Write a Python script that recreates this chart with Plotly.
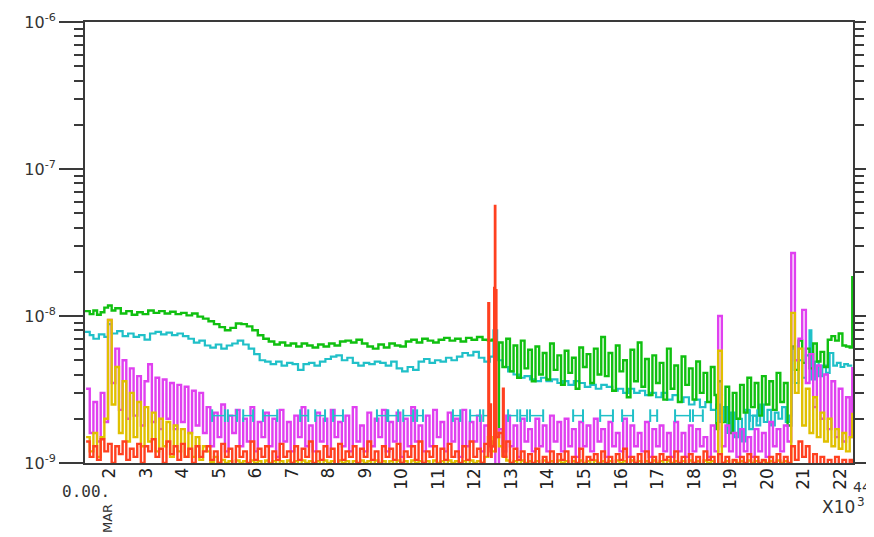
import plotly.graph_objects as go

# ---------------- data (days of March, values in units of 1e-9) ----------------
day_ticks = list(range(2, 23))
day_labels = [str(d) for d in day_ticks]
y_tick_vals = [1e-9, 1e-8, 1e-7, 1e-6]
y_tick_text = ["10<sup>-9</sup>", "10<sup>-8</sup>", "10<sup>-7</sup>", "10<sup>-6</sup>"]

green_t = [1.37, 1.5, 1.6, 1.7, 1.8, 1.9, 2.0, 2.1, 2.2, 2.35,
           2.5, 2.65, 2.8, 2.95, 3.1, 3.25, 3.4, 3.55, 3.7, 3.85,
           4.0, 4.15, 4.3, 4.45, 4.6, 4.75, 4.9, 5.05, 5.2, 5.35,
           5.5, 5.65, 5.8, 5.95, 6.1, 6.25, 6.4, 6.55, 6.7, 6.85,
           7.0, 7.15, 7.3, 7.45, 7.6, 7.75, 7.9, 8.05, 8.2, 8.35,
           8.5, 8.65, 8.8, 8.95, 9.1, 9.25, 9.4, 9.55, 9.7, 9.85,
           10.0, 10.15, 10.3, 10.45, 10.6, 10.75, 10.9, 11.05, 11.2, 11.35,
           11.5, 11.65, 11.8, 11.95, 12.1, 12.25, 12.4,
           12.5, 12.6, 12.7, 12.8, 12.9, 13.0, 13.1, 13.2, 13.3, 13.4,
           13.5, 13.6, 13.7, 13.8, 13.9, 14.0, 14.1, 14.2, 14.3, 14.4,
           14.5, 14.6, 14.7, 14.8, 14.9, 15.0, 15.1, 15.2, 15.3, 15.4,
           15.5, 15.6, 15.7, 15.8, 15.9, 16.0, 16.1, 16.2, 16.3, 16.4,
           16.5, 16.6, 16.7, 16.8, 16.9, 17.0, 17.1, 17.2, 17.3, 17.4,
           17.5, 17.6, 17.7, 17.8, 17.9, 18.0, 18.1, 18.2, 18.3, 18.4,
           18.5, 18.6, 18.65, 18.7, 18.8, 18.9, 19.0, 19.1, 19.2, 19.3,
           19.4, 19.5, 19.6, 19.7, 19.8, 19.9, 20.0, 20.1, 20.2, 20.3,
           20.4, 20.5, 20.6, 20.7, 20.8, 20.9, 21.0, 21.1, 21.2, 21.3,
           21.4, 21.5, 21.6, 21.7, 21.8, 21.9, 22.0, 22.1, 22.2, 22.3,
           22.36, 22.37]
green_v = [10.8, 10.3, 10.9, 10.2, 10.6, 11.4, 11.8, 10.9, 11.3, 10.4,
           10.8, 10.2, 10.6, 10.3, 10.9, 10.5, 10.8, 10.4, 10.7, 10.3,
           10.5, 10.1, 10.4, 9.9, 9.6, 9.2, 8.8, 8.4, 8.0, 8.3,
           8.9, 8.8, 8.5, 8.0, 7.4, 7.0, 6.7, 6.4, 6.6, 6.3,
           6.5, 6.2, 6.5, 6.3, 6.1, 6.4, 6.2, 6.5, 6.3, 6.7,
           6.8, 6.6, 6.9, 6.5, 6.2, 6.0, 6.4, 6.1, 6.5, 6.3,
           6.2, 6.7, 6.9, 6.6, 7.0, 6.8, 6.6, 6.9, 7.1, 6.8,
           7.0, 6.7, 7.1, 6.9, 7.2, 6.9, 6.8,
           6.9, 1.5, 6.6, 4.5, 7.0, 4.2, 6.3, 3.8, 6.8, 4.4,
           5.9, 3.6, 6.2, 4.0, 5.6, 3.7, 6.5, 4.3, 5.4, 3.4,
           5.8, 4.1, 5.2, 3.2, 6.1, 4.5, 5.5, 3.5, 6.0, 4.0,
           7.2, 3.9, 5.6, 3.1, 6.3, 4.2, 5.0, 2.8, 5.9, 3.6,
           6.6, 3.3, 5.1, 2.9, 5.4, 3.5, 4.8, 2.7, 6.0, 3.2,
           4.6, 2.6, 5.3, 3.4, 4.4, 2.7, 4.9, 3.0, 4.1, 2.6,
           4.5, 2.9, 1.7, 3.6, 1.9, 3.3, 1.6, 3.0, 2.0, 3.4,
           2.2, 3.8, 2.4, 3.5, 2.1, 3.9, 2.5, 3.6, 2.3, 4.1,
           2.6, 3.5, 1.8, 6.2, 4.3, 6.8, 4.8, 6.0, 4.4, 6.5,
           4.9, 5.7, 4.5, 6.9, 7.3, 6.8, 7.6, 6.3, 6.2, 6.1,
           6.1, 18.7]

cyan_t = [1.37, 1.5, 1.6, 1.75, 1.9, 2.0, 2.1, 2.25, 2.4, 2.55,
          2.7, 2.85, 3.0, 3.15, 3.3, 3.45, 3.6, 3.75, 3.9, 4.05,
          4.2, 4.35, 4.5, 4.65, 4.8, 4.95, 5.1, 5.25, 5.4, 5.55,
          5.7, 5.85, 6.0, 6.15, 6.3, 6.45, 6.6, 6.75, 6.9, 7.05,
          7.2, 7.35, 7.5, 7.65, 7.8, 7.95, 8.1, 8.25, 8.4, 8.55,
          8.7, 8.85, 9.0, 9.15, 9.3, 9.45, 9.6, 9.75, 9.9, 10.05,
          10.2, 10.35, 10.5, 10.65, 10.8, 10.95, 11.1, 11.25, 11.4, 11.55,
          11.7, 11.85, 12.0, 12.15, 12.3, 12.45, 12.55, 12.65, 12.8, 12.95,
          13.1, 13.25, 13.4, 13.55, 13.7, 13.85, 14.0, 14.15, 14.3, 14.45,
          14.6, 14.75, 14.9, 15.05, 15.2, 15.35, 15.5, 15.65, 15.8, 15.95,
          16.1, 16.25, 16.4, 16.55, 16.7, 16.85, 17.0, 17.15, 17.3, 17.45,
          17.6, 17.75, 17.9, 18.05, 18.2, 18.35, 18.5, 18.65, 18.75, 18.85,
          18.95, 19.05, 19.15, 19.25, 19.35, 19.45, 19.55, 19.65, 19.75, 19.85,
          19.95, 20.05, 20.15, 20.25, 20.35, 20.45, 20.55, 20.65, 20.7, 20.8,
          20.9, 21.0, 21.1, 21.2, 21.25, 21.35, 21.45, 21.55, 21.65, 21.75,
          21.85, 21.95, 22.05, 22.15, 22.25, 22.37]
cyan_v = [7.8, 7.4, 7.0, 7.5, 7.2, 8.8, 7.6, 7.9, 7.3, 7.6,
          7.2, 7.4, 6.9, 7.6, 7.8, 7.5, 7.7, 7.4, 7.6, 7.3,
          7.0, 6.6, 6.8, 6.3, 6.1, 6.4, 6.0, 6.3, 6.5, 6.8,
          6.4, 6.0, 5.5, 5.0, 4.9, 4.7, 4.9, 4.6, 4.8, 4.7,
          4.3, 4.7, 4.8, 4.6, 4.9, 5.1, 5.3, 5.4, 5.0, 5.2,
          4.8, 4.6, 4.8, 4.7, 4.9, 4.8, 4.6, 4.9, 4.4, 4.2,
          4.5, 4.3, 4.9, 5.1, 4.8, 5.0, 4.9, 5.2, 5.0, 5.3,
          5.6, 5.4, 5.7, 5.2, 4.9, 5.3, 8.0, 5.0, 4.5, 4.2,
          4.0, 3.8, 3.9, 3.7, 3.6, 3.8, 3.6, 3.7, 3.5, 3.6,
          3.4, 3.6, 3.5, 3.3, 3.4, 3.2, 3.4, 3.3, 3.1, 3.2,
          3.0, 3.2, 3.0, 3.1, 2.9, 3.0, 2.8, 3.0, 2.7, 2.9,
          2.6, 2.8, 2.5, 2.7, 2.4, 2.6, 2.3, 2.5, 1.9, 2.4,
          1.6, 2.2, 1.5, 2.0, 1.4, 2.3, 1.7, 2.1, 1.8, 2.5,
          1.9, 2.3, 1.8, 2.2, 2.0, 2.4, 1.9, 2.1, 6.0, 3.5,
          5.0, 3.8, 5.4, 8.0, 3.7, 4.9, 3.9, 4.6, 4.1, 5.6,
          4.6, 4.8, 4.5, 4.7, 4.6, 4.6]

# short cyan floor segments ("H" marks) near 2.1e-9
cyan_floor_start = [4.85, 5.28, 5.70, 6.24, 7.26, 7.67, 8.16, 9.36, 9.67, 10.08,
                    10.46, 11.44, 11.91, 12.27, 12.95, 13.28, 13.55, 14.73, 15.47,
                    16.07, 16.84, 17.52, 18.01, 18.67, 19.57]
cyan_floor_end = [5.20, 5.53, 5.97, 6.63, 7.48, 7.94, 8.43, 9.64, 9.94, 10.35,
                  10.62, 11.64, 12.18, 12.46, 13.20, 13.47, 13.91, 15.00, 15.82,
                  16.37, 17.03, 17.93, 18.28, 18.83, 19.77]
cyan_floor_level = 2.1

# regular sampling times shared by magenta / yellow / red
t_main = [1.4, 1.5, 1.6, 1.7, 1.8, 1.9, 2.0, 2.1, 2.2, 2.3, 2.4, 2.5, 2.6, 2.7, 2.8, 2.9,
          3.0, 3.1, 3.2, 3.3, 3.4, 3.5, 3.6, 3.7, 3.8, 3.9, 4.0, 4.1, 4.2, 4.3, 4.4, 4.5, 4.6,
          4.7, 4.8, 4.9, 5.0, 5.1, 5.2, 5.3, 5.4, 5.5, 5.6, 5.7, 5.8, 5.9, 6.0, 6.1, 6.2,
          6.3, 6.4, 6.5, 6.6, 6.7, 6.8, 6.9, 7.0, 7.1, 7.2, 7.3, 7.4, 7.5, 7.6, 7.7, 7.8,
          7.9, 8.0, 8.1, 8.2, 8.3, 8.4, 8.5, 8.6, 8.7, 8.8, 8.9, 9.0, 9.1, 9.2, 9.3, 9.4,
          9.5, 9.6, 9.7, 9.8, 9.9, 10.0, 10.1, 10.2, 10.3, 10.4, 10.5, 10.6, 10.7, 10.8,
          10.9, 11.0, 11.1, 11.2, 11.3, 11.4, 11.5, 11.6, 11.7, 11.8, 11.9, 12.0, 12.1,
          12.2, 12.3, 12.4, 12.5, 12.6, 12.7, 12.8, 12.9, 13.0, 13.1, 13.2, 13.3, 13.4,
          13.5, 13.6, 13.7, 13.8, 13.9, 14.0, 14.1, 14.2, 14.3, 14.4, 14.5, 14.6, 14.7,
          14.8, 14.9, 15.0, 15.1, 15.2, 15.3, 15.4, 15.5, 15.6, 15.7, 15.8, 15.9, 16.0,
          16.1, 16.2, 16.3, 16.4, 16.5, 16.6, 16.7, 16.8, 16.9, 17.0, 17.1, 17.2, 17.3,
          17.4, 17.5, 17.6, 17.7, 17.8, 17.9, 18.0, 18.1, 18.2, 18.3, 18.4, 18.5, 18.6,
          18.7, 18.8, 18.9, 19.0, 19.1, 19.2, 19.3, 19.4, 19.5, 19.6, 19.7, 19.8, 19.9,
          20.0, 20.1, 20.2, 20.3, 20.4, 20.5, 20.6, 20.7, 20.8, 20.9, 21.0, 21.1, 21.2,
          21.3, 21.4, 21.5, 21.6, 21.7, 21.8, 21.9, 22.0, 22.1, 22.2, 22.3, 22.37]

magenta_v = [3.2, 1.6, 2.6, 1.4, 3.0, 1.9, 9.4, 3.5, 6.0, 2.3, 5.0, 2.0, 4.4, 2.1, 3.9, 1.8,
             3.6, 4.7, 1.9, 3.8, 1.7, 3.7, 2.0, 3.5, 1.7, 3.4, 1.9, 3.3, 1.6, 3.1, 1.8, 3.0, 1.6,
             2.4, 1.3, 2.2, 1.5, 2.5, 1.2, 2.1, 1.6, 2.3, 1.3,
             2.0, 1.4, 2.4, 1.2, 1.9, 1.5, 2.2, 1.3, 2.0, 1.1,
             2.3, 1.4, 1.9, 1.2, 2.1, 1.5, 2.4, 1.3, 1.8, 1.2,
             2.2, 1.4, 2.0, 1.1, 2.3, 1.5, 1.9, 1.3, 2.1, 1.2,
             2.4, 1.4, 1.8, 1.2, 2.2, 1.3, 2.0, 1.5, 2.3, 1.2,
             1.9, 1.4, 2.2, 1.1, 2.0, 1.3, 2.4, 1.4, 1.8, 1.2,
             2.1, 1.3, 2.3, 1.5, 1.9, 1.2, 2.2, 1.4, 2.0, 1.1,
             2.3, 1.3, 1.9, 1.4, 2.1, 1.2, 1.8, 1.4, 1.3, 0.9,
             1.7, 1.2, 2.1, 1.3, 1.8, 1.1, 2.0, 1.4, 1.7, 1.2,
             2.0, 1.3, 1.8, 1.2, 2.1, 1.4, 1.9, 1.2, 2.0, 1.3,
             1.7, 1.1, 1.9, 1.3, 1.8, 1.2, 2.0, 1.4, 1.7, 1.1,
             1.9, 1.3, 1.6, 1.2, 2.0, 1.1, 1.8, 1.3, 1.6, 1.2,
             1.9, 1.1, 1.7, 1.3, 1.8, 1.2, 1.6, 1.1, 1.9, 1.2,
             1.6, 1.1, 1.8, 1.2, 1.7, 1.3, 1.5, 1.1, 1.8, 1.2,
             10.0, 1.3, 1.8, 1.2, 1.6, 1.1, 1.7, 1.2, 1.5, 1.1,
             1.7, 1.2, 1.6, 1.1, 1.9, 1.3, 1.7, 1.2, 1.8, 1.4,
             26.8, 5.0, 7.0, 11.0, 3.5, 5.5, 2.4, 4.6, 2.0, 4.0, 1.7, 3.6, 1.5, 3.2, 1.4,
             2.8, 1.5, 4.5]

yellow_v = [1.5, 1.2, 1.6, 1.1, 1.5, 2.0, 9.4, 2.5, 4.5, 1.6, 3.6, 1.4, 3.0, 1.5, 2.6, 1.3,
            2.4, 1.4, 2.2, 1.2, 2.0, 1.3, 1.9, 1.1, 1.8, 1.2, 1.7, 1.1, 1.6, 1.1, 1.5, 1.05, 1.3,
            1.2, 1.02, 1.1, 1.0, 1.05, 1.0, 1.03, 0.98, 1.04, 1.0,
            1.03, 0.98, 1.04, 1.0, 1.03, 0.98, 1.04, 1.0, 1.03, 0.98,
            1.03, 0.98, 1.04, 1.0, 1.03, 0.98, 1.04, 1.0, 1.03, 0.98,
            1.03, 0.98, 1.04, 1.0, 1.03, 0.98, 1.04, 1.0, 1.03, 0.98,
            1.03, 0.98, 1.04, 1.0, 1.03, 0.98, 1.04, 1.0, 1.03, 0.98,
            1.03, 0.98, 1.04, 1.0, 1.03, 0.98, 1.04, 1.0, 1.03, 0.98,
            1.03, 0.98, 1.04, 1.0, 1.03, 0.98, 1.04, 1.0, 1.03, 0.98,
            1.03, 0.98, 1.04, 1.0, 1.03, 1.0, 1.1, 1.5, 1.2, 1.6,
            1.3, 1.1, 1.04, 1.0, 1.03, 0.98, 1.04, 1.0, 1.03, 0.98,
            1.03, 0.98, 1.04, 1.0, 1.03, 0.98, 1.04, 1.0, 1.03, 0.98,
            1.03, 0.98, 1.04, 1.0, 1.03, 0.98, 1.04, 1.0, 1.03, 0.98,
            1.03, 0.98, 1.04, 1.0, 1.03, 0.98, 1.04, 1.0, 1.03, 0.98,
            1.03, 0.98, 1.04, 1.0, 1.03, 0.98, 1.04, 1.0, 1.03, 0.98,
            1.03, 0.98, 1.04, 1.0, 1.03, 0.98, 1.04, 1.0, 1.03, 0.98,
            5.8, 1.0, 1.03, 0.98, 1.04, 1.0, 1.03, 0.98, 1.04, 1.0,
            1.03, 0.98, 1.04, 1.0, 1.03, 0.98, 1.04, 1.0, 1.03, 0.98,
            10.5, 3.0, 6.0, 1.8, 3.2, 1.6, 2.8, 1.5, 2.2, 1.4, 2.0, 1.3, 1.7, 1.25, 1.6,
            1.2, 1.5, 2.2]

red_v = [1.4, 1.1, 1.3, 1.05, 1.45, 1.2, 1.35, 1.0, 1.3, 1.15, 1.4, 1.05, 1.25, 1.1, 1.35, 1.0,
         1.3, 1.2, 1.45, 1.1, 1.25, 1.0, 1.4, 1.15, 1.3, 1.05, 1.35, 1.1, 1.25, 1.0, 1.3, 1.1, 1.2,
         1.3, 1.05, 1.2, 1.0, 1.35, 1.1, 1.25, 0.95, 1.3, 1.1,
         1.2, 1.0, 1.4, 1.05, 1.25, 1.1, 1.3, 0.95, 1.2, 1.05,
         1.35, 1.1, 1.2, 1.0, 1.3, 1.05, 1.25, 1.1, 1.4, 1.0,
         1.2, 1.05, 1.3, 1.1, 1.25, 0.95, 1.35, 1.05, 1.2, 1.1,
         1.3, 1.0, 1.25, 1.1, 1.4, 1.05, 1.2, 0.95, 1.3, 1.1,
         1.25, 1.05, 1.35, 1.0, 1.2, 1.1, 1.3, 1.05, 1.4, 1.0,
         1.2, 1.1, 1.3, 0.95, 1.25, 1.05, 1.35, 1.1, 1.2, 1.0,
         1.3, 1.05, 1.4, 1.1, 1.25, 1.0, 1.35, 1.1,
         1.3, 1.2, 1.6, 1.1, 1.4, 1.0, 1.25, 1.05, 1.2, 0.95,
         1.15, 1.0, 1.25, 0.95, 1.1, 1.0, 1.2, 0.95, 1.15, 1.05,
         1.2, 0.95, 1.1, 1.0, 1.25, 0.95, 1.1, 1.05, 1.15, 0.95,
         1.2, 1.0, 1.1, 0.95, 1.15, 1.05, 1.25, 0.95, 1.1, 1.0,
         1.15, 0.95, 1.2, 1.0, 1.1, 0.95, 1.15, 1.05, 1.1, 0.95,
         1.2, 1.0, 1.1, 0.95, 1.15, 1.0, 1.1, 0.95, 1.2, 1.05,
         1.1, 0.95, 1.15, 1.0, 1.1, 0.95, 1.05, 0.95, 1.1, 1.0,
         1.15, 0.95, 1.1, 1.0, 1.05, 0.95, 1.1, 1.0, 1.15, 0.95,
         1.1, 1.0,
         1.3, 1.05, 1.4, 1.1, 1.3, 0.95, 1.15, 0.95, 1.1, 0.95, 1.05, 0.95, 1.1, 0.95, 1.05,
         0.95, 1.05, 1.0]

# narrow red spikes around 12.4-12.8 March
red_spike_t = [12.40, 12.41, 12.43, 12.46, 12.48, 12.56, 12.57, 12.59, 12.61, 12.63, 12.80, 12.81, 12.83]
red_spike_v = [1.2, 12.2, 1.3, 2.5, 1.1, 1.4, 15.5, 56.0, 15.0, 1.5, 1.2, 3.2, 1.1]

# ---------------- build ----------------
SCALE = 1e-9
X0, X1 = 1.37, 22.39            # visible day range
OFF = 8                          # page body margin of the html page
W, H = 874 - OFF, 537 - OFF      # figure size so that it fits the window
PL, PR, PT, PB = 85 - OFF, 21, 22 - OFF, 74   # plot margins (px, figure coords)


def scaled(vals):
    return [v * SCALE for v in vals]


def px_to_paper_y(py):
    return 1 - (py - OFF - PT) / (H - PT - PB)


def px_to_paper_x(px):
    return (px - OFF - PL) / (W - PL - PR)


red_pairs = sorted(list(zip(t_main, red_v)) + list(zip(red_spike_t, red_spike_v)))
red_t_all = [p[0] for p in red_pairs]
red_v_all = [p[1] for p in red_pairs]

floor_x, floor_y = [], []
for s, e in zip(cyan_floor_start, cyan_floor_end):
    floor_x += [s, e, None]
    floor_y += [cyan_floor_level * SCALE, cyan_floor_level * SCALE, None]

GREEN = "#10c010"
CYAN = "#20c0c8"
MAGENTA = "#e040f0"
YELLOW = "#e0c000"
RED = "#ff4020"
LW = 2.4
SHAPE = "hv"

fig = go.Figure()
fig.add_trace(go.Scatter(x=cyan_t, y=scaled(cyan_v), mode="lines",
                         line=dict(color=CYAN, width=2.2, shape=SHAPE)))
fig.add_trace(go.Scatter(x=green_t, y=scaled(green_v), mode="lines",
                         line=dict(color=GREEN, width=2.4, shape=SHAPE)))
fig.add_trace(go.Scatter(x=t_main, y=scaled(magenta_v), mode="lines",
                         line=dict(color=MAGENTA, width=LW, shape=SHAPE)))
fig.add_trace(go.Scatter(x=floor_x, y=floor_y, mode="lines+markers",
                         line=dict(color=CYAN, width=1.5),
                         marker=dict(symbol="line-ns", size=9,
                                     line=dict(color=CYAN, width=2))))
fig.add_trace(go.Scatter(x=t_main, y=scaled(yellow_v), mode="lines",
                         line=dict(color=YELLOW, width=LW, shape=SHAPE)))
fig.add_trace(go.Scatter(x=red_t_all, y=scaled(red_v_all), mode="lines",
                         line=dict(color=RED, width=LW, shape=SHAPE)))

AXC = "#3a3a3a"
fig.update_layout(
    width=W, height=H,
    margin=dict(l=PL, r=PR, t=PT, b=PB, autoexpand=False),
    paper_bgcolor="white", plot_bgcolor="white",
    showlegend=False,
    font=dict(family="DejaVu Sans Mono", size=13, color="#333333"),
)
fig.update_xaxes(
    range=[X0, X1], automargin=False, showticklabels=False,
    ticks="", showgrid=False, zeroline=False,
    showline=True, linecolor=AXC, linewidth=2, mirror=True,
)
minor_vals = [k * 10.0 ** e for e in (-9, -8, -7) for k in range(2, 10)]
fig.update_yaxes(
    type="log", range=[-9, -6], automargin=False,
    tickmode="array", tickvals=y_tick_vals, ticktext=y_tick_text,
    ticks="outside", ticklen=24, tickwidth=2, tickcolor=AXC,
    showgrid=False, zeroline=False,
    showline=True, linecolor=AXC, linewidth=2, mirror="ticks",
    minor=dict(tickmode="array", tickvals=minor_vals, ticks="outside",
               ticklen=9, tickwidth=2, tickcolor=AXC, showgrid=False),
    tickfont=dict(family="DejaVu Sans", size=16, color="#333333"),
)

# day labels under the axis, written along short invisible vertical guides (read bottom-to-top)
for d, lab in zip(day_ticks, day_labels):
    y_top = 466
    y_bot = 466 + 12 * len(lab) + 2
    fig.add_shape(type="line", xref="x", yref="paper", x0=d, x1=d,
                  y0=px_to_paper_y(y_bot), y1=px_to_paper_y(y_top),
                  line=dict(color="rgba(0,0,0,0)", width=1),
                  label=dict(text=lab, textangle=-90, textposition="middle",
                             xanchor="center", yanchor="middle", padding=0,
                             font=dict(family="DejaVu Sans", size=17, color="#222222")))

for text, px, py, ang, size, fam in [("0.00.", 86, 492, 0, 16, "DejaVu Sans Mono"),
                                     ("MAR", 107, 519, -90, 13, "DejaVu Sans"),
                                     ("X10", 838, 507, 0, 17, "DejaVu Sans"),
                                     ("3", 861, 502, 0, 12, "DejaVu Sans"),
                                     ("44", 862, 487, 0, 14, "DejaVu Sans")]:
    fig.add_annotation(text=text, x=px_to_paper_x(px), y=px_to_paper_y(py),
                       xref="paper", yref="paper", textangle=ang, showarrow=False,
                       xanchor="center", yanchor="middle",
                       font=dict(family=fam, size=size, color="#333333"))

fig.write_html("out.html")
